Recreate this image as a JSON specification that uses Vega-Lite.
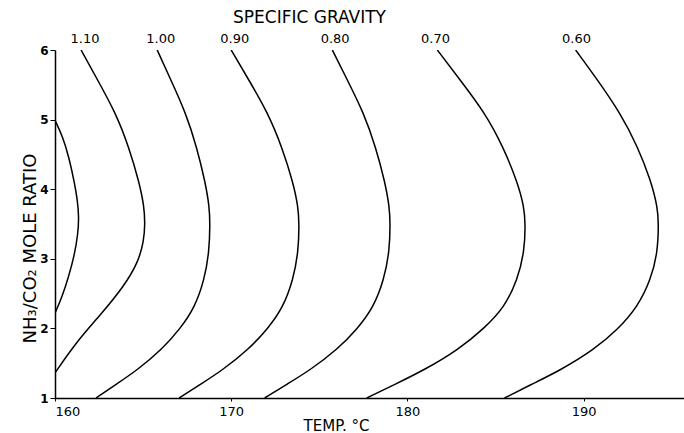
{
  "$schema": "https://vega.github.io/schema/vega-lite/v6.json",
  "width": 629,
  "height": 348,
  "autosize": "none",
  "padding": {"left": 55, "top": 50, "right": 0, "bottom": 35},
  "background": "white",
  "config": {"view": {"stroke": null}, "font": "DejaVu Sans"},
  "title": {"text": "SPECIFIC GRAVITY", "fontSize": 17, "fontWeight": "normal", "color": "black", "anchor": "middle", "dx": -60, "offset": 6},
  "layer": [
    {
      "data": {"values": [
        {"c": "A", "i": 0, "t": 160.0, "r": 4.99},
        {"c": "A", "i": 1, "t": 160.45, "r": 4.75},
        {"c": "A", "i": 2, "t": 160.8, "r": 4.45},
        {"c": "A", "i": 3, "t": 161.1, "r": 4.1},
        {"c": "A", "i": 4, "t": 161.27, "r": 3.85},
        {"c": "A", "i": 5, "t": 161.36, "r": 3.6},
        {"c": "A", "i": 6, "t": 161.3, "r": 3.35},
        {"c": "A", "i": 7, "t": 161.1, "r": 3.05},
        {"c": "A", "i": 8, "t": 160.78, "r": 2.75},
        {"c": "A", "i": 9, "t": 160.4, "r": 2.45},
        {"c": "A", "i": 10, "t": 160.0, "r": 2.22},

        {"c": "1.10", "i": 0, "t": 161.48, "r": 6.0},
        {"c": "1.10", "i": 1, "t": 162.35, "r": 5.6},
        {"c": "1.10", "i": 2, "t": 163.44, "r": 5.1},
        {"c": "1.10", "i": 3, "t": 164.2, "r": 4.6},
        {"c": "1.10", "i": 4, "t": 164.78, "r": 4.1},
        {"c": "1.10", "i": 5, "t": 165.06, "r": 3.75},
        {"c": "1.10", "i": 6, "t": 165.11, "r": 3.5},
        {"c": "1.10", "i": 7, "t": 165.04, "r": 3.25},
        {"c": "1.10", "i": 8, "t": 164.72, "r": 2.95},
        {"c": "1.10", "i": 9, "t": 163.9, "r": 2.6},
        {"c": "1.10", "i": 10, "t": 162.6, "r": 2.2},
        {"c": "1.10", "i": 11, "t": 161.2, "r": 1.8},
        {"c": "1.10", "i": 12, "t": 160.0, "r": 1.36},

        {"c": "1.00", "i": 0, "t": 165.8, "r": 6.0},
        {"c": "1.00", "i": 1, "t": 166.52, "r": 5.6},
        {"c": "1.00", "i": 2, "t": 167.42, "r": 5.1},
        {"c": "1.00", "i": 3, "t": 168.05, "r": 4.6},
        {"c": "1.00", "i": 4, "t": 168.53, "r": 4.1},
        {"c": "1.00", "i": 5, "t": 168.76, "r": 3.75},
        {"c": "1.00", "i": 6, "t": 168.8, "r": 3.5},
        {"c": "1.00", "i": 7, "t": 168.75, "r": 3.1},
        {"c": "1.00", "i": 8, "t": 168.48, "r": 2.7},
        {"c": "1.00", "i": 9, "t": 167.93, "r": 2.3},
        {"c": "1.00", "i": 10, "t": 167.12, "r": 2.0},
        {"c": "1.00", "i": 11, "t": 166.08, "r": 1.7},
        {"c": "1.00", "i": 12, "t": 164.66, "r": 1.4},
        {"c": "1.00", "i": 13, "t": 163.49, "r": 1.2},
        {"c": "1.00", "i": 14, "t": 162.33, "r": 1.0},

        {"c": "0.90", "i": 0, "t": 170.0, "r": 6.0},
        {"c": "0.90", "i": 1, "t": 170.93, "r": 5.6},
        {"c": "0.90", "i": 2, "t": 172.08, "r": 5.1},
        {"c": "0.90", "i": 3, "t": 172.89, "r": 4.6},
        {"c": "0.90", "i": 4, "t": 173.51, "r": 4.1},
        {"c": "0.90", "i": 5, "t": 173.8, "r": 3.75},
        {"c": "0.90", "i": 6, "t": 173.86, "r": 3.5},
        {"c": "0.90", "i": 7, "t": 173.81, "r": 3.1},
        {"c": "0.90", "i": 8, "t": 173.52, "r": 2.7},
        {"c": "0.90", "i": 9, "t": 172.94, "r": 2.3},
        {"c": "0.90", "i": 10, "t": 172.09, "r": 2.0},
        {"c": "0.90", "i": 11, "t": 171.0, "r": 1.7},
        {"c": "0.90", "i": 12, "t": 169.5, "r": 1.4},
        {"c": "0.90", "i": 13, "t": 168.28, "r": 1.2},
        {"c": "0.90", "i": 14, "t": 167.05, "r": 1.0},

        {"c": "0.80", "i": 0, "t": 175.74, "r": 6.0},
        {"c": "0.80", "i": 1, "t": 176.53, "r": 5.6},
        {"c": "0.80", "i": 2, "t": 177.52, "r": 5.1},
        {"c": "0.80", "i": 3, "t": 178.21, "r": 4.6},
        {"c": "0.80", "i": 4, "t": 178.73, "r": 4.1},
        {"c": "0.80", "i": 5, "t": 178.98, "r": 3.75},
        {"c": "0.80", "i": 6, "t": 179.03, "r": 3.5},
        {"c": "0.80", "i": 7, "t": 178.98, "r": 3.1},
        {"c": "0.80", "i": 8, "t": 178.67, "r": 2.7},
        {"c": "0.80", "i": 9, "t": 178.07, "r": 2.3},
        {"c": "0.80", "i": 10, "t": 177.18, "r": 2.0},
        {"c": "0.80", "i": 11, "t": 176.04, "r": 1.7},
        {"c": "0.80", "i": 12, "t": 174.47, "r": 1.4},
        {"c": "0.80", "i": 13, "t": 173.18, "r": 1.2},
        {"c": "0.80", "i": 14, "t": 171.9, "r": 1.0},

        {"c": "0.70", "i": 0, "t": 181.7, "r": 6.0},
        {"c": "0.70", "i": 1, "t": 182.9, "r": 5.6},
        {"c": "0.70", "i": 2, "t": 184.4, "r": 5.1},
        {"c": "0.70", "i": 3, "t": 185.45, "r": 4.6},
        {"c": "0.70", "i": 4, "t": 186.25, "r": 4.1},
        {"c": "0.70", "i": 5, "t": 186.62, "r": 3.75},
        {"c": "0.70", "i": 6, "t": 186.7, "r": 3.5},
        {"c": "0.70", "i": 7, "t": 186.64, "r": 3.1},
        {"c": "0.70", "i": 8, "t": 186.25, "r": 2.7},
        {"c": "0.70", "i": 9, "t": 185.5, "r": 2.3},
        {"c": "0.70", "i": 10, "t": 184.36, "r": 2.0},
        {"c": "0.70", "i": 11, "t": 182.92, "r": 1.7},
        {"c": "0.70", "i": 12, "t": 180.94, "r": 1.4},
        {"c": "0.70", "i": 13, "t": 179.32, "r": 1.2},
        {"c": "0.70", "i": 14, "t": 177.7, "r": 1.0},

        {"c": "0.60", "i": 0, "t": 189.55, "r": 6.0},
        {"c": "0.60", "i": 1, "t": 190.68, "r": 5.61},
        {"c": "0.60", "i": 2, "t": 192.1, "r": 5.09},
        {"c": "0.60", "i": 3, "t": 193.07, "r": 4.61},
        {"c": "0.60", "i": 4, "t": 193.81, "r": 4.13},
        {"c": "0.60", "i": 5, "t": 194.2, "r": 3.74},
        {"c": "0.60", "i": 6, "t": 194.26, "r": 3.51},
        {"c": "0.60", "i": 7, "t": 194.2, "r": 3.08},
        {"c": "0.60", "i": 8, "t": 193.81, "r": 2.7},
        {"c": "0.60", "i": 9, "t": 193.07, "r": 2.31},
        {"c": "0.60", "i": 10, "t": 191.93, "r": 1.98},
        {"c": "0.60", "i": 11, "t": 190.57, "r": 1.69},
        {"c": "0.60", "i": 12, "t": 188.69, "r": 1.4},
        {"c": "0.60", "i": 13, "t": 187.0, "r": 1.19},
        {"c": "0.60", "i": 14, "t": 185.51, "r": 1.0}
      ]},
      "mark": {"type": "line", "interpolate": "basis", "color": "black", "strokeWidth": 1.5, "clip": true},
      "encoding": {
        "x": {
          "field": "t", "type": "quantitative",
          "scale": {"domain": [160, 195.7], "nice": false, "zero": false},
          "axis": {
            "values": [160, 170, 180, 190], "grid": false, "tickSize": 3, "tickColor": "black",
            "domainColor": "black", "domainWidth": 1.5, "labelFontSize": 13, "labelColor": "black",
            "labelPadding": 4, "title": "TEMP. °C", "titleFontSize": 15, "titleFontWeight": "normal",
            "titleColor": "black", "titleX": 281, "titleY": 27, "titleAlign": "center", "titleBaseline": "middle"
          }
        },
        "y": {
          "field": "r", "type": "quantitative",
          "scale": {"domain": [1, 6], "nice": false, "zero": false},
          "axis": {
            "values": [1, 2, 3, 4, 5, 6], "format": "d", "grid": false, "tickSize": 5, "tickColor": "black",
            "domainColor": "black", "domainWidth": 1.5, "labelFontSize": 12, "labelColor": "black", "labelFontWeight": "bold",
            "labelPadding": 2, "title": "NH₃/CO₂ MOLE RATIO", "titleFontSize": 18, "titleFontWeight": "normal",
            "titleColor": "black", "titleAngle": -90, "titleX": -25, "titleY": 198, "titleAlign": "center", "titleBaseline": "middle"
          }
        },
        "detail": {"field": "c"},
        "order": {"field": "i", "type": "quantitative"}
      }
    },
    {
      "mark": {"type": "rule", "color": "black", "strokeWidth": 1.5},
      "encoding": {"y": {"datum": 6}}
    },
    {
      "data": {"values": [
        {"label": "1.10", "t": 161.7},
        {"label": "1.00", "t": 166.0},
        {"label": "0.90", "t": 170.2},
        {"label": "0.80", "t": 175.9},
        {"label": "0.70", "t": 181.6},
        {"label": "0.60", "t": 189.6}
      ]},
      "mark": {"type": "text", "baseline": "bottom", "dy": -4, "fontSize": 13, "color": "black"},
      "encoding": {
        "x": {"field": "t", "type": "quantitative"},
        "y": {"datum": 6},
        "text": {"field": "label"}
      }
    }
  ]
}
